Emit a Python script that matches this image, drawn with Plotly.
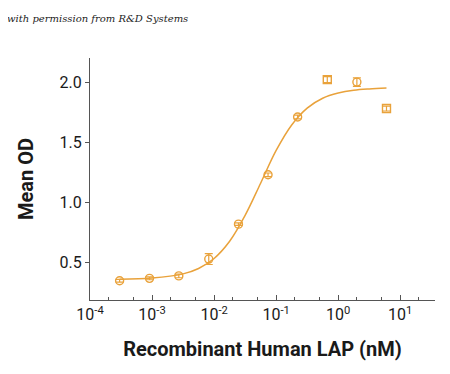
import plotly.graph_objects as go

# Measured points
conc = [0.0003, 0.00091, 0.0027, 0.0082, 0.0247, 0.074, 0.222, 0.667, 2.0, 6.0]
mean_od = [0.35, 0.37, 0.39, 0.53, 0.82, 1.23, 1.71, 2.02, 2.00, 1.78]
err = [0.012, 0.012, 0.015, 0.045, 0.01, 0.015, 0.015, 0.025, 0.035, 0.02]
symbols = ["circle-open"] * 7 + ["square-open", "circle-open", "square-open"]

# Fitted curve
curve_x = [0.0003, 0.001, 0.00316, 0.00562, 0.01, 0.0178, 0.0316, 0.0562, 0.1,
           0.178, 0.316, 0.562, 1.0, 1.78, 3.16, 6.0]
curve_y = [0.363, 0.372, 0.407, 0.452, 0.535, 0.678, 0.893, 1.16, 1.432,
           1.644, 1.784, 1.866, 1.909, 1.932, 1.943, 1.950]

tick_vals = [1e-4, 1e-3, 1e-2, 1e-1, 1, 10]
tick_text = ["10<sup>-4</sup>", "10<sup>-3</sup>", "10<sup>-2</sup>", "10<sup>-1</sup>",
             "10<sup>0</sup>", "10<sup>1</sup>"]
y_ticks = [0.5, 1.0, 1.5, 2.0]
y_text = ["0.5", "1.0", "1.5", "2.0"]

color = "#E9A23B"
fig = go.Figure()
fig.add_trace(go.Scatter(x=curve_x, y=curve_y, mode="lines", line=dict(color=color, width=1.5, shape="spline"),
                         hoverinfo="skip", showlegend=False))
fig.add_trace(go.Scatter(x=conc, y=mean_od, mode="markers",
                         marker=dict(symbol=symbols, size=8, color=color, line=dict(width=1.4, color=color)),
                         error_y=dict(type="data", array=err, color=color, thickness=1.2, width=4),
                         showlegend=False))

fig.update_layout(
    width=450, height=374, paper_bgcolor="white", plot_bgcolor="white",
    margin=dict(l=82, r=23, t=50, b=82, autoexpand=False),
    font=dict(family="Roboto, Arial", color="#1a1a1a"),
    annotations=[dict(text="<i>with permission from R&amp;D Systems</i>", xref="paper", yref="paper",
                      x=-0.245, y=1.165, xanchor="left", yanchor="middle", showarrow=False,
                      font=dict(family="DejaVu Serif", size=10, color="#222"))],
)
fig.update_xaxes(type="log", range=[-4, 1.56], tickvals=tick_vals, ticktext=tick_text, automargin=False,
                 showline=True, linecolor="#555", linewidth=1.2, ticks="inside", ticklen=5,
                 tickcolor="#555", showgrid=False, zeroline=False,
                 minor=dict(ticks="inside", ticklen=3, tickcolor="#555", showgrid=False),
                 tickfont=dict(size=16, family="Roboto"),
                 title=dict(text="<b>Recombinant Human LAP (nM)</b>", font=dict(size=20), standoff=18))
fig.update_yaxes(range=[0.19, 2.2], tickvals=y_ticks, ticktext=y_text, automargin=False,
                 showline=True, linecolor="#555", linewidth=1.2, ticks="outside", ticklen=4,
                 tickcolor="#555", showgrid=False, zeroline=False, tickfont=dict(size=16),
                 title=dict(text="<b>Mean OD</b>", font=dict(size=20), standoff=20))
fig.write_html("out.html")
